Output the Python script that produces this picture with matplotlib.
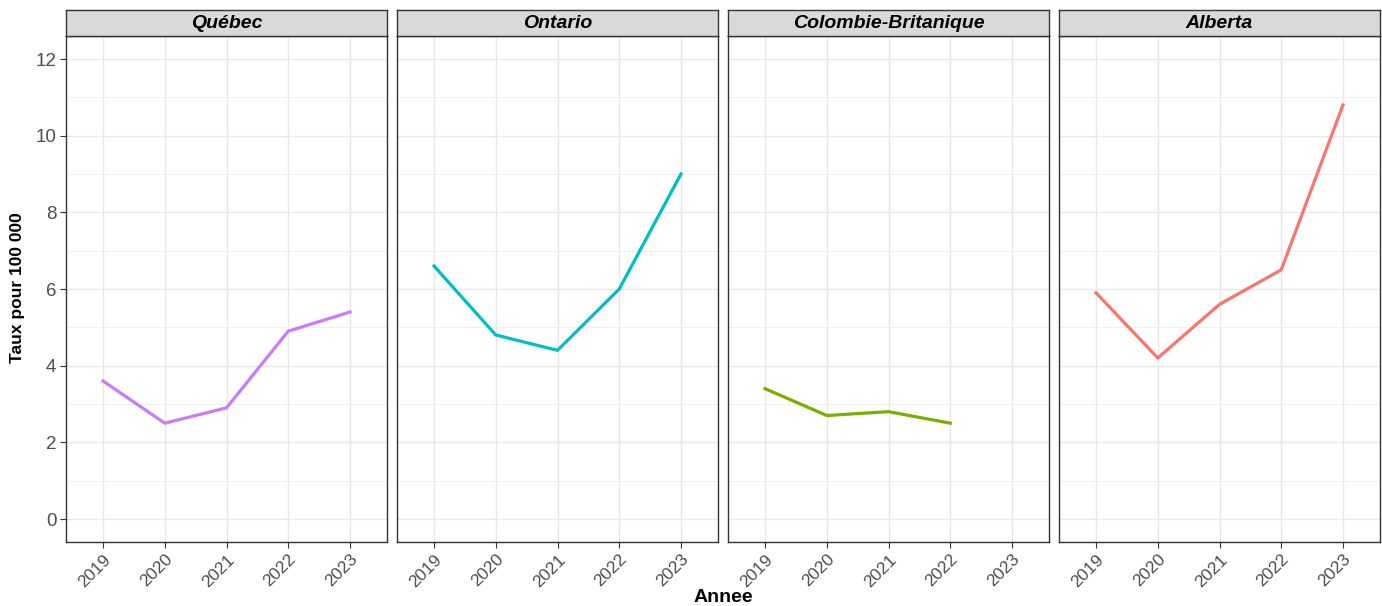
import matplotlib.pyplot as plt
from matplotlib.transforms import ScaledTranslation

# data
years = ["2019", "2020", "2021", "2022", "2023"]
provinces = ["Québec", "Ontario", "Colombie-Britanique", "Alberta"]
quebec = [3.6, 2.5, 2.9, 4.9, 5.4]
ontario = [6.6, 4.8, 4.4, 6.0, 9.0]
cb = [3.4, 2.7, 2.8, 2.5]
alberta = [5.9, 4.2, 5.6, 6.5, 10.8]
colors = ["#C77CFF", "#00BFC4", "#7CAE00", "#F8766D"]

plt.rcParams['font.family'] = ['Liberation Sans', 'DejaVu Sans']

fig = plt.figure(figsize=(13.82, 6.06), dpi=100)
W, H = 1382, 606

# panel geometry in pixels
lefts = [66, 397, 728, 1059]
pw = 321
top, bot = 36, 542
strip_h = 26

# nudge rotated year labels a bit right, like the reference
shift = ScaledTranslation(7 / 100, -3 / 100, fig.dpi_scale_trans)

series = [quebec, ontario, cb, alberta]
for i, (name, vals) in enumerate(zip(provinces, series)):
    ax = fig.add_axes([lefts[i] / W, 1 - bot / H, pw / W, (bot - top) / H])
    x = list(range(len(vals)))
    ax.plot(x, vals, color=colors[i], lw=2.3, zorder=3)
    ax.set_xlim(-0.6, 4.6)
    ax.set_ylim(-0.6, 12.6)
    ax.set_xticks(range(len(years)))
    ax.set_xticklabels(years, rotation=45, ha='right', rotation_mode='anchor')
    for lab in ax.get_xticklabels():
        lab.set_transform(lab.get_transform() + shift)
    ax.set_yticks([0, 2, 4, 6, 8, 10, 12])
    ax.set_yticks([1, 3, 5, 7, 9, 11], minor=True)
    ax.grid(True, which='major', color='#E8E8E8', lw=1.0)
    ax.grid(True, which='minor', axis='y', color='#F0F0F0', lw=0.7)
    ax.set_axisbelow(True)
    ax.tick_params(which='minor', length=0)
    ax.tick_params(axis='x', which='major', labelsize=12.5)
    ax.tick_params(axis='y', which='major', labelsize=13.5)
    ax.tick_params(which='major', length=4, color='#333333',
                   labelcolor='#4D4D4D', width=0.8, pad=3)
    if i > 0:
        ax.tick_params(axis='y', which='both', left=False, labelleft=False)
    for s in ax.spines.values():
        s.set_color('#333333')
        s.set_linewidth(1.0)

    # facet strip
    sax = fig.add_axes([lefts[i] / W, 1 - top / H, pw / W, strip_h / H])
    sax.set_xlim(0, 1)
    sax.set_ylim(0, 1)
    sax.set_facecolor('#D9D9D9')
    sax.set_xticks([])
    sax.set_yticks([])
    for s in sax.spines.values():
        s.set_color('#333333')
        s.set_linewidth(1.0)
    sax.text(0.5, 0.5, name, ha='center', va='center', fontsize=14,
             fontweight='bold', fontstyle='italic', color='black')

fig.text(723 / W, 1 - 597 / H, "Annee", ha='center', va='center',
         fontsize=14, fontweight='bold')
fig.text(18 / W, 1 - 288 / H, "Taux pour 100 000", ha='center', va='center',
         rotation=90, fontsize=12.5, fontweight='bold',
         family=['Liberation Sans Narrow', 'Liberation Sans'])

fig.savefig("out.png", dpi=100)
